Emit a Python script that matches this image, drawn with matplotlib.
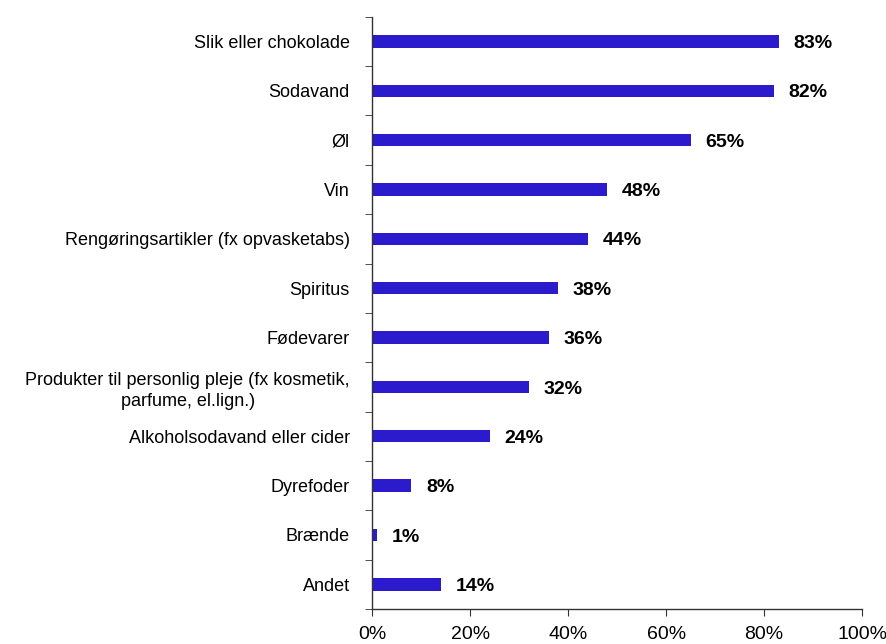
import matplotlib
matplotlib.use("Agg")
import matplotlib.pyplot as plt
from matplotlib.ticker import FixedLocator, PercentFormatter

plt.rcParams["font.family"] = ["Liberation Sans", "DejaVu Sans"]

# data
categories = [
    "Slik eller chokolade",
    "Sodavand",
    "Øl",
    "Vin",
    "Rengøringsartikler (fx opvasketabs)",
    "Spiritus",
    "Fødevarer",
    "Produkter til personlig pleje (fx kosmetik,\nparfume, el.lign.)",
    "Alkoholsodavand eller cider",
    "Dyrefoder",
    "Brænde",
    "Andet",
]
values = [83, 82, 65, 48, 44, 38, 36, 32, 24, 8, 1, 14]
x_ticks = [0, 20, 40, 60, 80, 100]

fig = plt.figure(figsize=(8.86, 6.44), dpi=100)
ax = fig.add_axes([0.42, 0.0543, 0.553, 0.9197])

ypos = list(range(len(categories)))
ax.barh(ypos, values, height=0.25, color="#2B1BCC")

for y, v in zip(ypos, values):
    ax.annotate(f"{v}%", (v, y), xytext=(10.5, -1.5), textcoords="offset points",
                va="center", ha="left", fontsize=14, fontweight="bold")

ax.set_xlim(0, 100)
ax.set_ylim(len(categories) - 0.5, -0.5)
ax.set_xticks(x_ticks)
ax.xaxis.set_major_formatter(PercentFormatter(decimals=0))
ax.set_yticks(ypos)
ax.set_yticklabels(categories, fontsize=13, linespacing=1.3)
ax.yaxis.set_minor_locator(FixedLocator([i - 0.5 for i in range(len(categories) + 1)]))
ax.tick_params(axis="y", which="major", length=0, pad=16)
ax.tick_params(axis="y", which="minor", length=5, color="#333333")
ax.tick_params(axis="x", length=5, labelsize=14, color="#333333", pad=7)
for lbl in ax.get_yticklabels():
    lbl.set_multialignment("center")

for s in ["top", "right"]:
    ax.spines[s].set_visible(False)
for s in ["left", "bottom"]:
    ax.spines[s].set_color("#333333")
    ax.spines[s].set_linewidth(1)

fig.savefig("out.png", dpi=100)
